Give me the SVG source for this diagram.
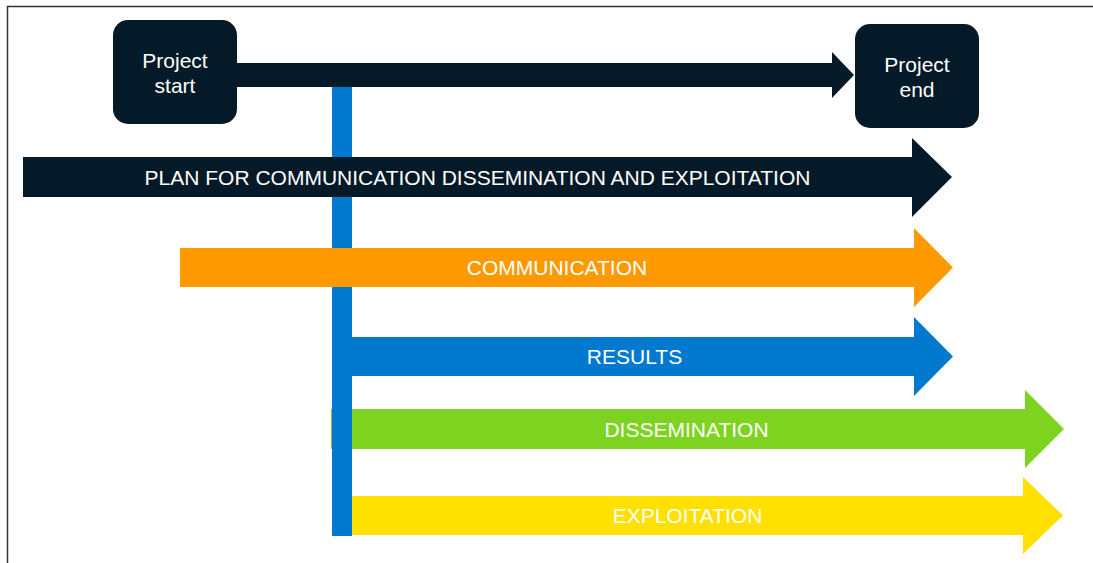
<svg xmlns="http://www.w3.org/2000/svg" width="1093" height="563" viewBox="0 0 1093 563">
<style>
.lbl{font-family:"Liberation Sans",Arial,sans-serif;font-size:21px;fill:#ffffff;text-anchor:middle}
.navy{fill:#041A28}
</style>
<rect width="1093" height="563" fill="#ffffff"/>
<path d="M7.5 563 V6.5 H1093" fill="none" stroke="#333333" stroke-width="1.5"/>
<g id="dissemination">
<polygon fill="#7ED321" points="331,409 1025,409 1025,390 1064,429 1025,468 1025,449 331,449"/>
<text class="lbl" x="686.5" y="436.5">DISSEMINATION</text>
</g>
<g id="results">
<rect x="332" y="87" width="20" height="449" fill="#0079CF"/>
<polygon fill="#0079CF" points="352,337 914,337 914,317 953,356.5 914,396 914,376 352,376"/>
<text class="lbl" x="634.5" y="364">RESULTS</text>
</g>
<g id="connectors">
<polygon id="timeline" class="navy" points="230,63 832,63 832,52 854,75 832,98 832,87 230,87"/>
</g>
<g id="plan">
<polygon class="navy" points="23,157 912,157 912,138 952,177 912,217 912,197 23,197"/>
<text class="lbl" x="477.5" y="184.5">PLAN FOR COMMUNICATION DISSEMINATION AND EXPLOITATION</text>
</g>
<g id="communication">
<polygon fill="#FF9900" points="180,248 914,248 914,228 953,267.5 914,307 914,287 180,287"/>
<text class="lbl" x="557" y="275">COMMUNICATION</text>
</g>
<g id="exploitation">
<polygon fill="#FFE000" points="352,496 1023,496 1023,477 1063,515.5 1023,554 1023,535 352,535"/>
<text class="lbl" x="687.5" y="523">EXPLOITATION</text>
</g>
<g id="project-start">
<rect class="navy" x="113" y="20" width="124" height="104" rx="15"/>
<text class="lbl" x="175" y="68">Project</text>
<text class="lbl" x="175" y="93">start</text>
</g>
<g id="project-end">
<rect class="navy" x="855" y="24" width="124" height="104" rx="15"/>
<text class="lbl" x="917" y="72">Project</text>
<text class="lbl" x="917" y="97">end</text>
</g>
</svg>
